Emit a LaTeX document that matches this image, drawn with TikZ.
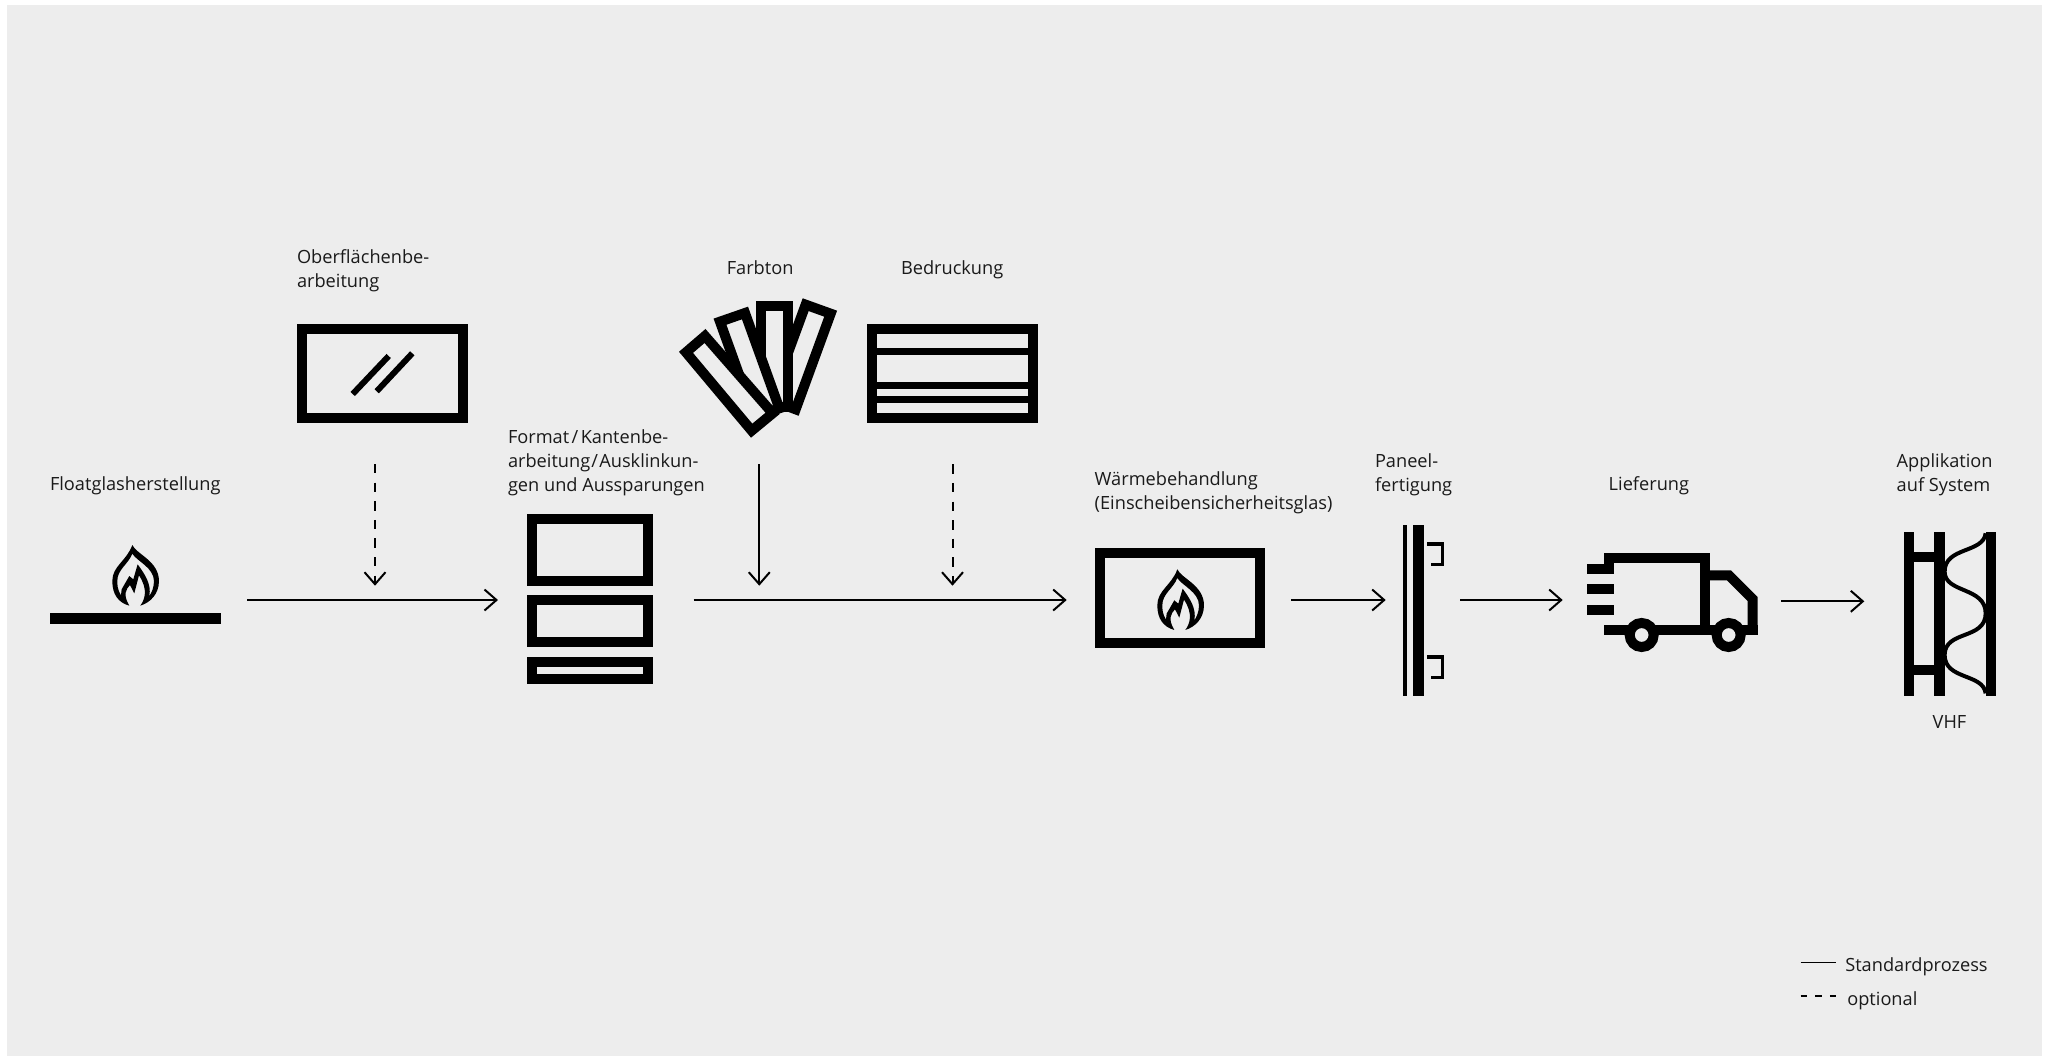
\documentclass[tikz,border=0pt]{standalone}
\usepackage{fontspec}
\setmainfont{Open Sans}
\usetikzlibrary{arrows.meta}
\definecolor{bg}{HTML}{EDEDED}
\definecolor{ink}{HTML}{000000}
\definecolor{txt}{HTML}{1A1A1A}
\tikzset{
  lbl/.style={anchor=base west,inner sep=0pt,outer sep=0pt,align=left,text=txt,font=\fontsize{9.1pt}{12pt}\selectfont},
  barbtip/.style={-{Straight Barb[length=6pt,width=10.5pt,line width=1pt]}},
  flow/.style={draw=ink,line width=1pt,barbtip},
  optflow/.style={flow,dash pattern=on 4.7pt off 4.6pt},
  iconbox/.style={draw=ink,line width=5pt,inner sep=0pt,outer sep=0pt,fill=none,miter limit=10},
  strip/.style={draw=ink,fill=bg,line width=5pt,line join=miter,miter limit=10},
  thick stroke/.style={draw=ink,line width=5pt,line join=miter,miter limit=10},
  pics/flame/.style={code={
    \fill[ink,even odd rule,scale=.3333,shift={(-127,-42)}]
      (127,42) .. controls (140,70) and (207,90) .. (207,150) .. controls (207,190) and (180,215) .. (151,224)
      .. controls (165,205) and (175,175) .. (147,133) -- (133,187) -- (120,162)
      .. controls (108,175) and (98,190) .. (118,224) .. controls (85,215) and (67,190) .. (67,150)
      .. controls (67,105) and (110,90) .. (127,42) -- cycle
      (127,68) .. controls (140,90) and (192,110) .. (192,150) .. controls (192,170) and (185,185) .. (178,195)
      .. controls (185,160) and (165,130) .. (143,100) -- (130,145) -- (118,135) -- (95,175) -- (93,193)
      .. controls (82,175) and (82,160) .. (82,150) .. controls (82,115) and (115,100) .. (127,68) -- cycle;
  }}
}
\begin{document}
\begin{tikzpicture}[x=.5pt,y=-.5pt]
\useasboundingbox (0,0) rectangle (2049,1056);
\fill[bg] (7,5) rectangle (2042,1056);

% Floatglas
\node[lbl] (tfloat) at (50,490) {Floatglasherstellung};
\fill[ink] (50,613) rectangle (221,624);
\pic at (132.3,545) {flame};

% Oberflaeche
\node[lbl] (tober) at (297,263) {Oberflächenbe-};
\node[lbl] (tober2) at (297,287) {arbeitung};
\node[iconbox,minimum width=80.5pt,minimum height=44.5pt] (ober) at (382.5,373.5) {};
\draw[ink,line width=3pt] (352.7,394) -- (388.7,356);
\draw[ink,line width=3pt] (376.7,391.3) -- (412.3,353.3);

% Format
\node[lbl] (tform) at (508,443) {Format\kern1.2pt/\kern1.2pt Kantenbe-};
\node[lbl] (tform2) at (508,467) {arbeitung\kern.6pt/\kern.6pt Ausklinkun-};
\node[lbl] (tform3) at (508,491) {gen und Aussparungen};
\node[iconbox,minimum width=58pt,minimum height=31.2pt] (f1) at (589.7,549.7) {};
\node[iconbox,minimum width=58pt,minimum height=20.7pt] (f2) at (589.7,621) {};
\node[iconbox,minimum width=58pt,minimum height=8.7pt] (f3) at (589.7,670.7) {};

% Farbton
\node[lbl] (tfarb) at (726.8,274) {Farbton};
\begin{scope}[shift={(660,290)},scale=.3333]
  \draw[strip] (437,44) -- (512,71) -- (407,358) -- (332,330) -- cycle;
  \draw[strip] (303,47) -- (385,47) -- (385,352) -- (303,352) -- cycle;
  \draw[strip] (180,95) -- (255,69) -- (358,355) -- (283,381) -- cycle;
  \draw[strip] (78,187) -- (135,138) -- (338,370) -- (275,422) -- cycle;
\end{scope}

% Bedruckung
\node[lbl] (tbed) at (901,274) {Bedruckung};
\node[iconbox,minimum width=80.2pt,minimum height=44.7pt] (bed) at (952.3,373.5) {};
\fill[ink] (875,348.3) rectangle (1030,355);
\fill[ink] (875,382.3) rectangle (1030,389.3);
\fill[ink] (875,396) rectangle (1030,402.7);

% Waerme
\node[lbl] (tw) at (1094.7,485) {Wärmebehandlung};
\node[lbl] (tw2) at (1094.7,509) {(Einscheibensicherheitsglas)};
\node[iconbox,minimum width=80.3pt,minimum height=44.8pt] (waerme) at (1180,598.2) {};
\pic at (1177.3,569.3) {flame};

% Paneel
\node[lbl] (tp) at (1375,467.7) {Paneel-};
\node[lbl] (tp2) at (1375,491.7) {fertigung};
\fill[ink] (1403,525) rectangle (1407,695.7);
\fill[ink] (1413,525) rectangle (1424,695.7);
\draw[ink,line width=1.7pt] (1427,544) -- (1442.3,544) -- (1442.3,564.7) -- (1430.7,564.7);
\draw[ink,line width=1.7pt] (1427,657) -- (1442.3,657) -- (1442.3,677.7) -- (1430.7,677.7);

% Lieferung
\node[lbl] (tl) at (1608.7,490) {Lieferung};
\begin{scope}[shift={(1580,430)},scale=.3333]
  \draw[thick stroke] (21,416) -- (88,416) -- (88,385) -- (375,385) -- (375,600);
  \draw[thick stroke] (21,478) -- (103,478);
  \draw[thick stroke] (21,539) -- (103,539);
  \draw[thick stroke] (375,436) -- (447,436) -- (518,507) -- (518,601);
  \draw[thick stroke] (72,601) -- (533,601);
  \draw[thick stroke,fill=bg] (185,615) circle [radius=36];
  \draw[thick stroke,fill=bg] (446,615) circle [radius=36];
\end{scope}

% Applikation
\node[lbl] (ta) at (1896.7,467.7) {Applikation};
\node[lbl] (ta2) at (1896.7,491.7) {auf System};
\node[lbl] (tv) at (1932.7,728.3) {VHF};
\begin{scope}[shift={(1580,430)},scale=.3333]
  \fill[ink] (971,305) rectangle (1002,797);
  \fill[ink] (1063,305) rectangle (1094,797);
  \fill[ink] (1217,305) rectangle (1248,797);
  \fill[ink] (1002,366) rectangle (1063,397);
  \fill[ink] (1002,704) rectangle (1063,735);
  \draw[ink,line width=2pt] (1217,310) .. controls (1210,370) and (1094,350) .. (1094,425)
    .. controls (1094,490) and (1217,470) .. (1217,550)
    .. controls (1217,630) and (1094,600) .. (1094,675)
    .. controls (1094,750) and (1210,730) .. (1217,790);
\end{scope}

% connectors
\coordinate (a1s) at (247,600); \coordinate (a1e) at (498,600);
\draw[flow] (a1s) -- (a1e);
\coordinate (d1s) at (375,464); \coordinate (d1e) at (375,585.7);
\draw[optflow] (d1s) -- (d1e);
\coordinate (a2s) at (693.5,600); \coordinate (a2e) at (1066.7,600);
\draw[flow] (a2s) -- (a2e);
\coordinate (d2s) at (759.3,464.3); \coordinate (d2e) at (759.3,585.7);
\draw[flow] (d2s) -- (d2e);
\coordinate (d3s) at (952.5,464.3); \coordinate (d3e) at (952.5,585.7);
\draw[optflow] (d3s) -- (d3e);
\coordinate (a3s) at (1291,600); \coordinate (a3e) at (1385.7,600);
\draw[flow] (a3s) -- (a3e);
\coordinate (a4s) at (1460,600); \coordinate (a4e) at (1562.7,600);
\draw[flow] (a4s) -- (a4e);
\coordinate (a5s) at (1781,601.3); \coordinate (a5e) at (1864.3,601.3);
\draw[flow] (a5s) -- (a5e);

% legend
\coordinate (l1s) at (1800.7,962.3); \coordinate (l1e) at (1836,962.3);
\draw[ink,line width=.8pt] (l1s) -- (l1e);
\coordinate (l2s) at (1800.7,995.7); \coordinate (l2e) at (1836,995.7);
\draw[ink,line width=.8pt,dash pattern=on 3.15pt off 4.15pt] (l2s) -- (l2e);
\node[lbl] (tstd) at (1845.3,971.7) {Standardprozess};
\node[lbl] (topt) at (1847.3,1005) {optional};
\end{tikzpicture}
\end{document}
